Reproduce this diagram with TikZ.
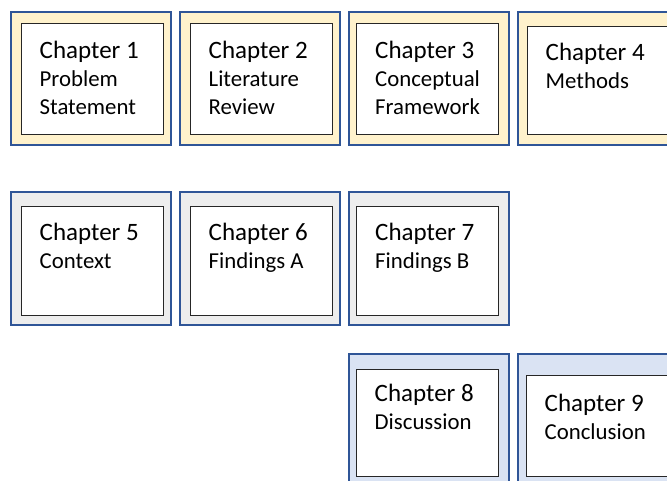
\documentclass[tikz,border=0pt]{standalone}
\usepackage{fontspec}
\setmainfont{Carlito}
\usetikzlibrary{positioning}

\definecolor{chapcream}{HTML}{FFF2CC}
\definecolor{chapgray}{HTML}{EDEDED}
\definecolor{chaplight}{HTML}{DAE3F3}
\definecolor{chapblue}{HTML}{2F5597}

\tikzset{
  outerbox/.style={draw=chapblue, line width=1.5pt, minimum width=160pt,
    minimum height=133pt, inner sep=0pt},
  innerbox/.style={draw=black!85, fill=white, line width=1pt, minimum width=142pt,
    minimum height=111pt, inner sep=0pt},
  chaptitle/.style={anchor=base west, inner sep=0pt,
    font=\fontsize{25}{28}\selectfont},
  chapsub/.style={anchor=base west, inner sep=0pt, align=left,
    font=\fontsize{22.8}{28}\selectfont},
}

\begin{document}
\begin{tikzpicture}[x=1pt,y=-1pt]
  \useasboundingbox (0,0) rectangle (667,480);
  \clip (0,0) rectangle (667,480);

  % row 1 (two-line subtitles: base is the last line)
  \node (ch1) [outerbox, fill=chapcream] at (91,78.5) {};
  \node (ch1in) [innerbox] at (92,78.5) {};
  \node (ch1t) [chaptitle] at ([shift={(19,35.5)}]ch1in.north west) {Chapter 1};
  \node (ch1s) [chapsub] at ([yshift=-56pt]ch1t.base west) {Problem\\Statement};

  \node (ch2) [outerbox, fill=chapcream] at (260,78.5) {};
  \node (ch2in) [innerbox] at (261,78.5) {};
  \node (ch2t) [chaptitle] at ([shift={(19,35.5)}]ch2in.north west) {Chapter 2};
  \node (ch2s) [chapsub] at ([yshift=-56pt]ch2t.base west) {Literature\\Review};

  \node (ch3) [outerbox, fill=chapcream] at (429,78.5) {};
  \node (ch3in) [innerbox] at (427.5,78.5) {};
  \node (ch3t) [chaptitle] at ([shift={(19,35.5)}]ch3in.north west) {Chapter 3};
  \node (ch3s) [chapsub] at ([yshift=-56pt]ch3t.base west) {Conceptual\\Framework};

  \node (ch4) [outerbox, fill=chapcream] at (598,78.5) {};
  \node (ch4in) [innerbox, minimum height=108pt] at (598,80) {};
  \node (ch4t) [chaptitle] at ([shift={(19,35)}]ch4in.north west) {Chapter 4};
  \node (ch4s) [chapsub] at ([yshift=-28pt]ch4t.base west) {Methods};

  % row 2
  \node (ch5) [outerbox, fill=chapgray] at (91,258.5) {};
  \node (ch5in) [innerbox, minimum height=109pt] at (92,260.5) {};
  \node (ch5t) [chaptitle] at ([shift={(19,35)}]ch5in.north west) {Chapter 5};
  \node (ch5s) [chapsub] at ([yshift=-28pt]ch5t.base west) {Context};

  \node (ch6) [outerbox, fill=chapgray] at (260,258.5) {};
  \node (ch6in) [innerbox, minimum height=109pt] at (261,260.5) {};
  \node (ch6t) [chaptitle] at ([shift={(19,35)}]ch6in.north west) {Chapter 6};
  \node (ch6s) [chapsub] at ([yshift=-28pt]ch6t.base west) {Findings A};

  \node (ch7) [outerbox, fill=chapgray] at (429,258.5) {};
  \node (ch7in) [innerbox, minimum height=109pt] at (427.5,260.5) {};
  \node (ch7t) [chaptitle] at ([shift={(19,35)}]ch7in.north west) {Chapter 7};
  \node (ch7s) [chapsub] at ([yshift=-28pt]ch7t.base west) {Findings B};

  % row 3
  \node (ch8) [outerbox, fill=chaplight] at (429,420.5) {};
  \node (ch8in) [innerbox, minimum height=107pt] at (427,422.5) {};
  \node (ch8t) [chaptitle] at ([shift={(19,33)}]ch8in.north west) {Chapter 8};
  \node (ch8s) [chapsub] at ([yshift=-28pt]ch8t.base west) {Discussion};

  \node (ch9) [outerbox, fill=chaplight] at (598,420.5) {};
  \node (ch9in) [innerbox, minimum height=101pt] at (597,425.5) {};
  \node (ch9t) [chaptitle] at ([shift={(19,37)}]ch9in.north west) {Chapter 9};
  \node (ch9s) [chapsub] at ([yshift=-28pt]ch9t.base west) {Conclusion};
\end{tikzpicture}
\end{document}
